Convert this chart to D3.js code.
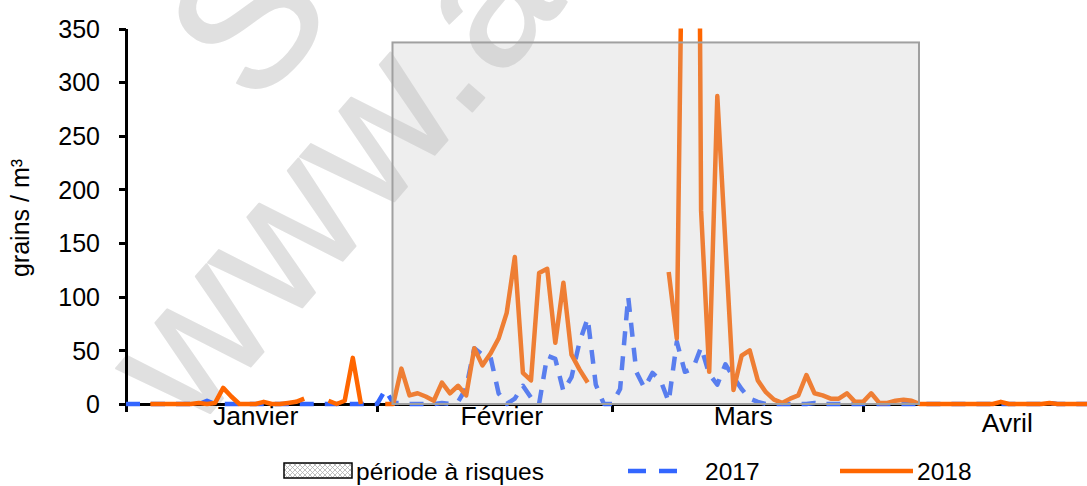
<!DOCTYPE html>
<meta charset="utf-8">
<style>

body {
  margin: 0;
  background: #fff;
  font-family: "Liberation Sans", Arial, sans-serif;
}

.axis path,
.axis line {
  stroke: #000;
  stroke-width: 3;
  shape-rendering: crispEdges;
}

.axis text {
  font: 25px "Liberation Sans", Arial, sans-serif;
  fill: #000;
}

.line {
  fill: none;
  stroke-width: 4.5;
  stroke-linejoin: round;
}

.month {
  font: 26.5px "Liberation Sans", Arial, sans-serif;
  fill: #000;
}

.legend text {
  font: 24.5px "Liberation Sans", Arial, sans-serif;
  fill: #000;
}

.ylabel {
  font: 25px "Liberation Sans", Arial, sans-serif;
  fill: #000;
}

.watermark {
  font: 190px "Liberation Sans", Arial, sans-serif;
  fill: #e0e0e0;
  stroke: #e0e0e0;
  stroke-width: 2;
  stroke-linejoin: round;
}

</style>
<body>
<script src="https://cdn.jsdelivr.net/npm/d3@7"></script>
<script>

// daily pollen counts, index 0 = 1 January (February has 29 slots on this axis)
var pollen2017 = [
  0, 0, 0, 0, 0, 0, 0, 0, 0, 0,
  3, 0, 0, 0, 0, 0, 0, 0, 0, 0,
  0, 0, 0, 0, 0, 0, 0, 0, 0, 0,
  0, 0, 13, 1, 1, 0, 0, 0, 0, 1,
  0, 2, 15, 52, 46, 44, 10, 0, 5, 17,
  6, 0, 45, 42, 12, 25, 58, 80, 18, 0,
  0, 14, 100, 30, 15, 29, 22, 2, 58, 30,
  33, 53, 28, 18, 37, 25, 14, 5, 2, 0,
  0, 0, 0, 0, 0, 1, 0, 0, 0, 0,
  0, 0, 0, 0, 0, 0, 0, 0, 0, 0,
  0, 0, 0, 0, 0, 0, 0, 0, 0, 0,
  0, 0, 0, 0, 1, 0, 0, 0, 0, 0
];

var pollen2018 = [
  null, null, null, 0, 0, 0, 0, 0, 0, 1,
  0, 1, 15, 7, 0, 0, 0, 2, 0, 0,
  1, 2, 5, null, null, 3, 0, 3, 43, 0,
  null, null, 0, 0, 33, 8, 10, 7, 3, 20,
  10, 17, 8, 52, 36, 47, 61, 85, 137, 29,
  22, 122, 126, 57, 113, 46, 32, 20, null, null,
  null, null, null, null, null, null, null, 123, 61, 650,
  1430, 180, 30, 287, 150, 13, 45, 50, 22, 11,
  4, 1, 5, 8, 27, 10, 8, 5, 5, 10,
  2, 2, 10, 1, 1, 3, 4, 3, 0, 0,
  0, 0, 0, 0, 0, 0, 0, 0, 2, 0,
  0, 0, 0, 0, 1, 0, 0, 0, 0, 0
];

var months = ["Janvier", "Février", "Mars", "Avril"];
var monthStarts = [0, 31, 60, 91];
var monthLabelPos = [16, 46.4, 76.2, 108.8];
var yTicks = [0, 50, 100, 150, 200, 250, 300, 350];
var riskPeriod = [32.9, 97.9];
var riskTop = 337;
var seriesNames = ["2017", "2018"];

var width = 1087,
    height = 486;

var x = d3.scaleLinear()
    .domain([0, 120])
    .range([126, 126 + 120 * 8.1]);

var y = d3.scaleLinear()
    .domain([0, 350])
    .range([404, 28.5]);

var svg = d3.select("body").append("svg")
    .attr("width", width)
    .attr("height", height);

var defs = svg.append("defs");

defs.append("clipPath")
    .attr("id", "plot-clip")
  .append("rect")
    .attr("x", 120)
    .attr("y", y(350))
    .attr("width", width)
    .attr("height", 420);

var hatch = defs.append("pattern")
    .attr("id", "hatch")
    .attr("patternUnits", "userSpaceOnUse")
    .attr("width", 5)
    .attr("height", 5);
hatch.append("rect")
    .attr("width", 5)
    .attr("height", 5)
    .attr("fill", "#fff");
hatch.append("path")
    .attr("d", "M0,0L5,5M5,0L0,5")
    .attr("stroke", "#b0b0b0")
    .attr("stroke-width", 0.8);

// watermark
svg.append("text")
    .attr("class", "watermark")
    .attr("transform", "translate(192,434) rotate(-49)")
    .attr("letter-spacing", 3)
    .text("www.a");

svg.append("text")
    .attr("class", "watermark")
    .attr("transform", "translate(255,110) rotate(-49)")
    .text("S");

// axes
svg.append("g")
    .attr("class", "y axis")
    .attr("transform", "translate(" + x(0) + ",0)")
    .call(d3.axisLeft(y).tickValues(yTicks).tickSize(7).tickSizeOuter(0).tickPadding(19))
    .call(function(g) { g.selectAll("text").attr("dy", "0.35em"); });

svg.append("g")
    .attr("class", "x axis")
    .attr("transform", "translate(0," + y(0) + ")")
    .call(d3.axisBottom(x).tickValues(monthStarts).tickSize(8).tickSizeOuter(0).tickFormat(""));

svg.selectAll(".month")
    .data(months)
  .enter().append("text")
    .attr("class", "month")
    .attr("x", function(d, i) { return x(monthLabelPos[i]); })
    .attr("y", function(d, i) { return i === 3 ? 432 : 425; })
    .attr("text-anchor", "middle")
    .text(function(d) { return d; });

svg.append("text")
    .attr("class", "ylabel")
    .attr("transform", "translate(29,218) rotate(-90)")
    .attr("text-anchor", "middle")
    .text("grains / m³");

// series
var line = d3.line()
    .defined(function(d) { return d != null; })
    .x(function(d, i) { return x(i); })
    .y(function(d) { return y(d); });

var plot = svg.append("g")
    .attr("clip-path", "url(#plot-clip)");

plot.append("path")
    .datum(pollen2017)
    .attr("class", "line")
    .attr("stroke", "#3366ff")
    .attr("stroke-dasharray", "14,11")
    .attr("d", line);

plot.append("path")
    .datum(pollen2018)
    .attr("class", "line")
    .attr("stroke", "#ff6600")
    .attr("d", line);

// risk period, drawn over the lines with transparency
svg.append("rect")
    .attr("x", x(riskPeriod[0]))
    .attr("y", y(riskTop))
    .attr("width", x(riskPeriod[1]) - x(riskPeriod[0]))
    .attr("height", y(0) - y(riskTop))
    .attr("fill", "#c0c0c0")
    .attr("fill-opacity", 0.27)
    .attr("stroke", "#a0a0a0")
    .attr("stroke-width", 2);

// legend
var legend = svg.append("g")
    .attr("class", "legend");

legend.append("rect")
    .attr("x", 284)
    .attr("y", 463)
    .attr("width", 68)
    .attr("height", 15)
    .attr("fill", "url(#hatch)")
    .attr("stroke", "#000")
    .attr("stroke-width", 1.5);

legend.append("text")
    .attr("x", 356)
    .attr("y", 480)
    .text("période à risques");

legend.append("line")
    .attr("x1", 628).attr("x2", 688)
    .attr("y1", 471).attr("y2", 471)
    .attr("stroke", "#3366ff")
    .attr("stroke-width", 4.5)
    .attr("stroke-dasharray", "18,13");

legend.append("text")
    .attr("x", 705)
    .attr("y", 480)
    .text(seriesNames[0]);

legend.append("line")
    .attr("x1", 840).attr("x2", 913)
    .attr("y1", 471).attr("y2", 471)
    .attr("stroke", "#ff6600")
    .attr("stroke-width", 4.5);

legend.append("text")
    .attr("x", 917)
    .attr("y", 480)
    .text(seriesNames[1]);

</script>
